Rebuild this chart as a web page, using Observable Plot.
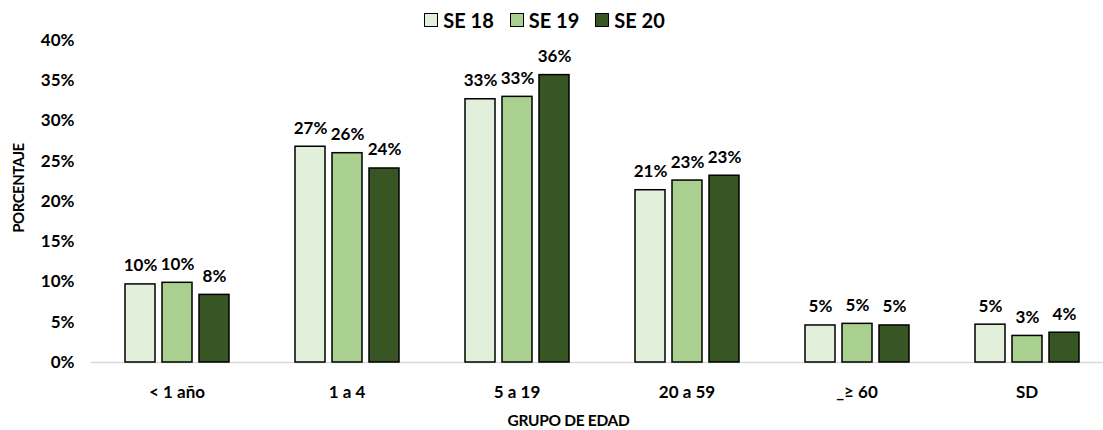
<!DOCTYPE html>
<html>
<head>
<meta charset="utf-8">
<script src="https://cdn.jsdelivr.net/npm/d3@7"></script>
<script src="https://cdn.jsdelivr.net/npm/@observablehq/plot@0.6"></script>
<style>
  html, body { margin: 0; padding: 0; background: #fff; }
  body { position: relative; width: 1103px; height: 430px; overflow: hidden; font-family: "Lato", "Open Sans", sans-serif; color: #000; }
  #legend { height: 30px; box-sizing: border-box; padding-top: 9px; display: flex; justify-content: center; gap: 16px; font-weight: bold; font-size: 20px; line-height: 22px; padding-right: 14px; }
  #legend .item { display: flex; align-items: center; gap: 5px; }
  #legend .sw { width: 12px; height: 12px; border: 1.5px solid #000; }
  #xtitle { height: 20px; line-height: 20px; text-align: center; font-weight: bold; font-size: 15.5px; letter-spacing: -0.3px; padding-left: 34px; }
  #ytitle { position: absolute; left: 18px; top: 188px; transform: translate(-50%, -50%) rotate(-90deg); white-space: nowrap; font-weight: bold; font-size: 15px; letter-spacing: -0.5px; line-height: 18px; }
</style>
</head>
<body>
<div id="legend"></div>
<div id="chart"></div>
<div id="xtitle">GRUPO DE EDAD</div>
<div id="ytitle">PORCENTAJE</div>
<script>
const groups = ["< 1 año", "1 a 4", "5 a 19", "20 a 59", "_≥ 60", "SD"];
const seriesNames = ["SE 18", "SE 19", "SE 20"];
const colors = ["#E2EFDA", "#A9D08E", "#375623"];
const se18 = [9.7, 26.8, 32.7, 21.4, 4.6, 4.7];
const se19 = [9.9, 26.0, 33.0, 22.6, 4.8, 3.3];
const se20 = [8.4, 24.1, 35.7, 23.2, 4.6, 3.7];
const yTicks = [0, 5, 10, 15, 20, 25, 30, 35, 40];

const seriesValues = [se18, se19, se20];
const data = [];
groups.forEach((g, i) => {
  seriesNames.forEach((s, j) => data.push({group: g, series: s, value: seriesValues[j][i]}));
});

const legend = document.getElementById("legend");
seriesNames.forEach((s, j) => {
  const it = document.createElement("div");
  it.className = "item";
  const sw = document.createElement("div");
  sw.className = "sw";
  sw.style.background = colors[j];
  const t = document.createElement("span");
  t.textContent = s;
  it.appendChild(sw); it.appendChild(t);
  legend.appendChild(it);
});

const chart = Plot.plot({
  width: 1103,
  height: 380,
  marginTop: 10,
  marginBottom: 48,
  marginLeft: 93,
  marginRight: -7,
  style: {fontFamily: "Lato, 'Open Sans', sans-serif", fontSize: "17px", fontWeight: "bold", color: "#000", background: "#fff"},
  facet: {data: data, x: "group"},
  fx: {domain: groups, paddingInner: 0.381, paddingOuter: 0.18, axis: "bottom", label: null, tickSize: 0, tickPadding: 23},
  x: {domain: seriesNames, paddingInner: 0.2, paddingOuter: 0, axis: null},
  y: {domain: [0, 40], ticks: yTicks, tickFormat: d => d + "%", tickSize: 0, tickPadding: 50, label: null},
  color: {domain: seriesNames, range: colors},
  marks: [
    Plot.ruleY([0], {stroke: "#d9d9d9", strokeWidth: 1.5, insetLeft: -33, insetRight: -33}),
    Plot.barY(data, {x: "series", y: "value", fill: "series", stroke: "#000", strokeWidth: 1.5}),
    Plot.text(data, {x: "series", y: "value", text: d => Math.round(d.value) + "%", lineAnchor: "bottom", dy: -13, fill: "#000", fontSize: 17, fontWeight: "bold"})
  ]
});
document.getElementById("chart").appendChild(chart);
</script>
</body>
</html>
